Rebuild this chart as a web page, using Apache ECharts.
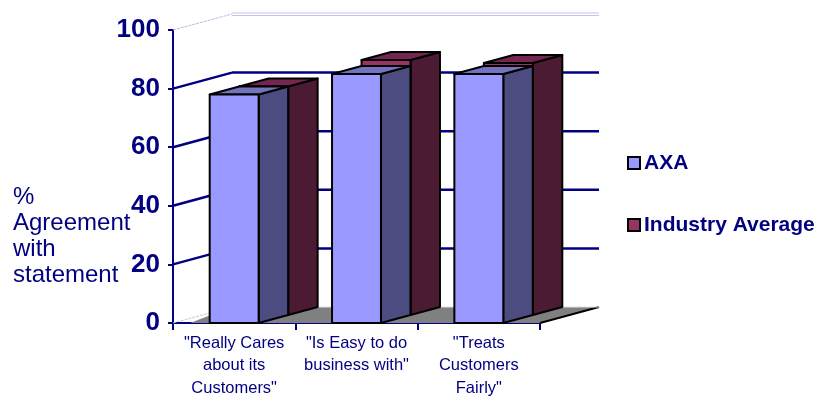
<!DOCTYPE html>
<html>
<head>
<meta charset="utf-8">
<script src="https://cdn.jsdelivr.net/npm/echarts@6/dist/echarts.min.js"></script>
<style>html,body{margin:0;padding:0;background:#fff;}#c{width:821px;height:397px;}</style>
</head>
<body>
<div id="c"></div>
<script>
// ---- data ----
const categories = ['"Really Cares\nabout its\nCustomers"', '"Is Easy to do\nbusiness with"', '"Treats\nCustomers\nFairly"'];
const axaValues = [78, 85, 85];
const industryValues = [78, 87, 86];
const yTicks = [0, 20, 40, 60, 80, 100];
const seriesNames = ['AXA', 'Industry Average'];
const yAxisTitle = '%\nAgreement\nwith\nstatement';

// ---- style constants ----
const NAVY = '#000080';
const FONT = 'Arial, "Liberation Sans", sans-serif';
const DX = 59, DY = -16, BAR_FRAC = 0.4;
const axaColors = { front: '#9999FF', side: '#4C4C80', top: '#7373BF' };
const indColors = { front: '#993366', side: '#4B1A33', top: '#732650' };

function barRender(d0, d1, colors) {
  return function (params, api) {
    const cat = api.value(0), v = api.value(1);
    const top = api.coord([cat, v]);
    const bot = api.coord([cat, 0]);
    const w = api.size([1, 0])[0] * BAR_FRAC;
    const xl = top[0] - w / 2, xr = top[0] + w / 2;
    const a0 = DX * d0, b0 = DY * d0, a1 = DX * d1, b1 = DY * d1;
    const yt = top[1], yb = bot[1];
    const st = (fill) => ({ fill: fill, stroke: '#000', lineWidth: 2, lineJoin: 'round' });
    return {
      type: 'group',
      children: [
        { type: 'polygon', shape: { points: [[xr + a0, yt + b0], [xr + a1, yt + b1], [xr + a1, yb + b1], [xr + a0, yb + b0]] }, style: st(colors.side) },
        { type: 'polygon', shape: { points: [[xl + a0, yt + b0], [xr + a0, yt + b0], [xr + a1, yt + b1], [xl + a1, yt + b1]] }, style: st(colors.top) },
        { type: 'rect', shape: { x: xl + a0, y: yt + b0, width: w, height: yb - yt }, style: st(colors.front) }
      ]
    };
  };
}

function wallRender(params, api) {
  const cs = params.coordSys;
  const v = api.value(1);
  const y = api.coord([0, v])[1];
  const x0 = cs.x, x1 = cs.x + cs.width;
  const children = [];
  if (v === 0) {
    children.push({ type: 'polygon', shape: { points: [[x0 + 17, y], [x1, y], [x1 + DX, y + DY], [x0 + DX, y + DY]] }, style: { fill: '#808080' } });
    children.push({ type: 'line', shape: { x1: x1, y1: y, x2: x1 + DX, y2: y + DY }, style: { stroke: '#000', lineWidth: 2 } });
    children.push({ type: 'line', shape: { x1: x0, y1: y, x2: x0 + DX, y2: y + DY }, style: { stroke: '#C8C8D8', lineWidth: 1, lineDash: [3, 1] } });
    children.push({ type: 'line', shape: { x1: x0 + DX, y1: y + DY, x2: x1 + DX, y2: y + DY }, style: { stroke: '#E0E0E0', lineWidth: 1 } });
  } else if (v === 100) {
    children.push({ type: 'line', shape: { x1: x0, y1: y, x2: x0 + DX, y2: y + DY }, style: { stroke: '#B8B8E0', lineWidth: 1, lineDash: [3, 1] } });
    children.push({ type: 'line', shape: { x1: x0 + DX, y1: y + DY - 1, x2: x1 + DX, y2: y + DY - 1 }, style: { stroke: '#C4C4E8', lineWidth: 1 } });
    children.push({ type: 'line', shape: { x1: x0 + DX, y1: y + DY + 1.5, x2: x1 + DX, y2: y + DY + 1.5 }, style: { stroke: '#C4C4E8', lineWidth: 1 } });
  } else {
    children.push({ type: 'line', shape: { x1: x0, y1: y, x2: x0 + DX, y2: y + DY }, style: { stroke: NAVY, lineWidth: 2.5 } });
    children.push({ type: 'line', shape: { x1: x0 + DX, y1: y + DY, x2: x1 + DX, y2: y + DY }, style: { stroke: NAVY, lineWidth: 2.5 } });
  }
  return { type: 'group', children: children };
}

const chart = echarts.init(document.getElementById('c'), null, { renderer: 'canvas' });
chart.setOption({
  animation: false,
  backgroundColor: '#fff',
  textStyle: { fontFamily: FONT },
  grid: { left: 173, right: 281, top: 30, bottom: 74, containLabel: false, outerBoundsMode: 'none' },
  xAxis: {
    type: 'category',
    data: categories,
    axisLine: { show: true, lineStyle: { color: NAVY, width: 2 } },
    axisTick: { show: true, length: 7, alignWithLabel: false, lineStyle: { color: NAVY, width: 2 } },
    axisLabel: { color: NAVY, fontSize: 16.5, lineHeight: 22.5, margin: 9, interval: 0, fontFamily: FONT },
    splitLine: { show: false }
  },
  yAxis: {
    type: 'value',
    min: 0, max: 100, interval: 20,
    axisLine: { show: true, lineStyle: { color: NAVY, width: 2 } },
    axisTick: { show: true, length: 5, lineStyle: { color: NAVY, width: 2 } },
    axisLabel: { color: NAVY, fontSize: 26, fontWeight: 'bold', margin: 13, fontFamily: FONT },
    splitLine: { show: false }
  },
  legend: {
    orient: 'vertical',
    left: 627, top: 152, padding: 0,
    itemWidth: 12, itemHeight: 12, itemGap: 40,
    icon: 'rect',
    textStyle: { color: NAVY, fontSize: 21, fontWeight: 'bold', lineHeight: 22, fontFamily: FONT, padding: [0, 0, 0, -1] },
    data: [
      { name: seriesNames[0], itemStyle: { color: axaColors.front, borderColor: '#000', borderWidth: 2 } },
      { name: seriesNames[1], itemStyle: { color: indColors.front, borderColor: '#000', borderWidth: 2 } }
    ]
  },
  graphic: [
    { type: 'text', left: 13, top: 184, style: { text: yAxisTitle, fill: NAVY, font: '24px ' + FONT, lineHeight: 26 } }
  ],
  series: [
    { type: 'custom', name: 'walls', z: 1, silent: true, renderItem: wallRender, data: yTicks.map(v => [0, v]), encode: { x: 0, y: 1 } },
    { type: 'custom', name: seriesNames[1], z: 2, itemStyle: { color: indColors.front }, renderItem: barRender(0.5, 1, indColors), data: industryValues.map((v, i) => [i, v]), encode: { x: 0, y: 1 } },
    { type: 'custom', name: seriesNames[0], z: 3, itemStyle: { color: axaColors.front }, renderItem: barRender(0, 0.5, axaColors), data: axaValues.map((v, i) => [i, v]), encode: { x: 0, y: 1 } }
  ]
});
</script>
</body>
</html>
